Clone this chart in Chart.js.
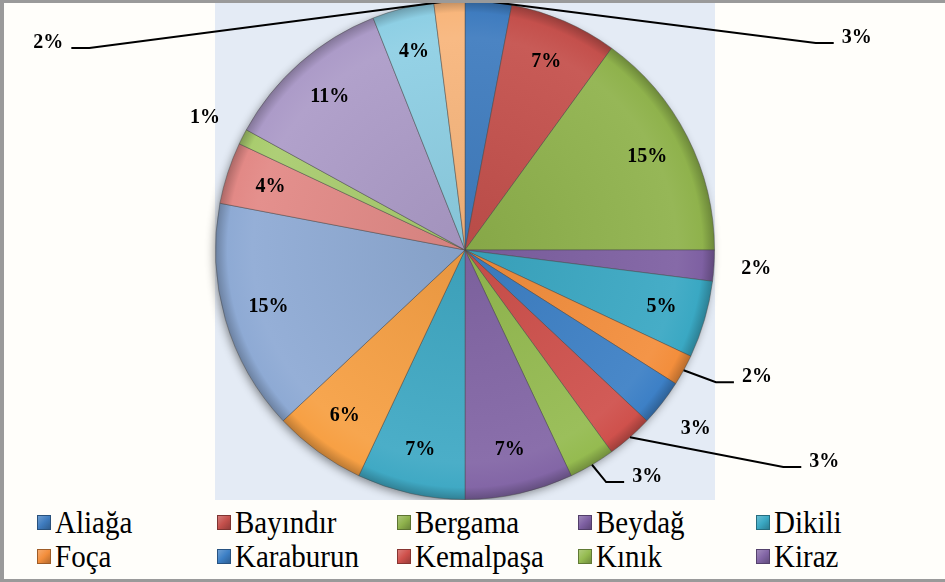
<!DOCTYPE html>
<html lang="tr">
<head>
    <meta charset="UTF-8">
    <title>İlçe Dağılımı</title>
    <script src="https://cdn.jsdelivr.net/npm/chart.js"></script>
    <style>
        html, body { margin: 0; padding: 0; background: #fffefa; }
        #wrap { position: relative; width: 945px; height: 582px; overflow: hidden; background: #fffefa; }
        #frame { position: absolute; left: 0; top: 0; width: 945px; height: 582px; box-sizing: border-box;
                 border-left: 4px solid #9a9a9a; border-top: 3px solid #9a9a9a; border-bottom: 3px solid #9a9a9a; pointer-events: none; }
        #pie { position: absolute; left: 0; top: 0; }
        #legend { position: absolute; left: 0; top: 508px; width: 945px;
                  font-family: 'Liberation Serif', 'Times New Roman', serif; font-size: 29px; color: #000; }
        .item { position: absolute; display: flex; align-items: center; white-space: nowrap; line-height: 1; }
        .item span { display: inline-block; transform: scaleY(1.1); }
        .box { width: 14px; height: 15px; margin-right: 4px; box-sizing: border-box; }
    </style>
</head>
<body>
<div id="wrap">
    <canvas id="pie" width="945" height="500"></canvas>
    <div id="legend"></div>
    <div id="frame"></div>
</div>
<script>
    // data
    const districts = ['Aliağa', 'Bayındır', 'Bergama', 'Beydağ', 'Dikili', 'Foça', 'Karaburun', 'Kemalpaşa', 'Kınık',
        'Kiraz', 'Menderes', 'Menemen', 'Ödemiş', 'Seferihisar', 'Selçuk', 'Tire', 'Torbalı', 'Urla'];
    const shares = [3, 7, 15, 2, 5, 2, 3, 3, 3, 7, 7, 6, 15, 4, 1, 11, 4, 2];
    const legendShown = 10;

    // styling
    const colors = ['#3f7cbf', '#c4504c', '#8fb24c', '#7e60a2', '#3aa8c3', '#f38e3c',
        '#3d80c6', '#cf514c', '#95bb50', '#8366a6', '#40a9c4', '#f7a044',
        '#8eaad4', '#e28986', '#a9cc6e', '#ac9bc8', '#8ecfe4', '#f8b67c'];
    // label placement: in = inside, out = just outside, lead = with leader line
    const labelMode = ['lead', 'in', 'in', 'out', 'in', 'lead', 'out', 'lead', 'lead',
        'in', 'in', 'in', 'in', 'in', 'out', 'in', 'in', 'lead'];
    const leadOffset = { 0: [1.57, -0.85], 5: [1.17, 0.51], 7: [1.44, 0.85], 8: [0.73, 0.91], 17: [-1.67, -0.83] };

    function mix(hex, target, amt) {
        const n = parseInt(hex.slice(1), 16);
        const c = [(n >> 16) & 255, (n >> 8) & 255, n & 255].map(v => Math.round(v + (target - v) * amt));
        return `rgb(${c[0]},${c[1]},${c[2]})`;
    }

    function sliceFill(context) {
        const base = colors[context.dataIndex];
        const chart = context.chart;
        const a = chart.chartArea;
        if (!a) return base;
        const cx = (a.left + a.right) / 2, cy = (a.top + a.bottom) / 2;
        const r = Math.min(a.width, a.height) / 2;
        const g = chart.ctx.createRadialGradient(cx, cy, 0, cx, cy, r);
        g.addColorStop(0, mix(base, 0, 0.06));
        g.addColorStop(0.85, mix(base, 255, 0.06));
        g.addColorStop(0.95, base);
        g.addColorStop(1, mix(base, 0, 0.25));
        return g;
    }

    const total = shares.reduce((s, v) => s + v, 0);

    const plotBackground = {
        id: 'plotBackground',
        beforeDraw(chart) {
            const { ctx, chartArea: a } = chart;
            ctx.save();
            ctx.fillStyle = '#e4ebf5';
            ctx.fillRect(a.left, a.top, a.width, a.height);
            ctx.restore();
        },
        beforeDatasetsDraw(chart) {
            const arc = chart.getDatasetMeta(0).data[0];
            if (!arc) return;
            const { x, y, outerRadius } = arc.getProps(['x', 'y', 'outerRadius'], true);
            const ctx = chart.ctx;
            ctx.save();
            ctx.shadowColor = 'rgba(0,0,0,0.45)';
            ctx.shadowBlur = 10;
            ctx.shadowOffsetX = -2;
            ctx.shadowOffsetY = 3;
            ctx.fillStyle = '#888';
            ctx.beginPath();
            ctx.arc(x, y, outerRadius - 1, 0, Math.PI * 2);
            ctx.fill();
            ctx.restore();
        }
    };

    const sliceLabels = {
        id: 'sliceLabels',
        afterDatasetsDraw(chart) {
            const ctx = chart.ctx;
            const arcs = chart.getDatasetMeta(0).data;
            ctx.save();
            ctx.font = "bold 20px 'Liberation Serif', 'Times New Roman', serif";
            ctx.fillStyle = '#000';
            ctx.strokeStyle = '#000';
            ctx.lineWidth = 2;
            ctx.textAlign = 'center';
            ctx.textBaseline = 'middle';
            arcs.forEach((arc, i) => {
                const p = arc.getProps(['x', 'y', 'startAngle', 'endAngle', 'outerRadius'], true);
                const mid = (p.startAngle + p.endAngle) / 2;
                const r = p.outerRadius;
                const text = Math.round(shares[i] / total * 100) + '%';
                const mode = labelMode[i];
                let lx, ly;
                if (mode === 'in' || mode === 'out') {
                    const k = mode === 'in' ? 0.82 : 1.17;
                    lx = p.x + Math.cos(mid) * r * k;
                    ly = p.y + Math.sin(mid) * r * k;
                } else {
                    const off = leadOffset[i];
                    lx = p.x + off[0] * r;
                    ly = p.y + off[1] * r;
                    const w = ctx.measureText(text).width;
                    const sx = p.x + Math.cos(mid) * r;
                    const sy = p.y + Math.sin(mid) * r;
                    const right = lx > p.x;
                    const ex = right ? lx - w / 2 - 8 : lx + w / 2 + 8;
                    const bx = right ? ex - 18 : ex + 18;
                    const ey = ly + 5;
                    ctx.beginPath();
                    ctx.moveTo(sx, sy);
                    ctx.lineTo(bx, ey);
                    ctx.lineTo(ex, ey);
                    ctx.stroke();
                }
                ctx.fillText(text, lx, ly);
            });
            ctx.restore();
        }
    };

    new Chart(document.getElementById('pie'), {
        type: 'pie',
        data: {
            labels: districts,
            datasets: [{
                data: shares,
                backgroundColor: sliceFill,
                borderColor: 'rgba(70,70,70,0.45)',
                borderWidth: 1
            }]
        },
        options: {
            responsive: false,
            animation: false,
            layout: { padding: { left: 215, right: 230, top: 0, bottom: 0 } },
            plugins: {
                legend: { display: false },
                tooltip: { enabled: false }
            }
        },
        plugins: [plotBackground, sliceLabels]
    });

    // legend: the reference shows only the first ten districts, five per row
    const legend = document.getElementById('legend');
    const colX = [37, 217, 397, 578, 756];
    for (let i = 0; i < legendShown; i++) {
        const item = document.createElement('div');
        item.className = 'item';
        item.style.left = colX[i % 5] + 'px';
        item.style.top = (Math.floor(i / 5) * 34) + 'px';
        const box = document.createElement('div');
        box.className = 'box';
        box.style.background = `linear-gradient(135deg, ${mix(colors[i], 255, 0.25)}, ${colors[i]} 50%, ${mix(colors[i], 0, 0.25)})`;
        box.style.border = `1px solid ${mix(colors[i], 0, 0.35)}`;
        const label = document.createElement('span');
        label.textContent = districts[i];
        item.appendChild(box);
        item.appendChild(label);
        legend.appendChild(item);
    }
</script>
</body>
</html>
